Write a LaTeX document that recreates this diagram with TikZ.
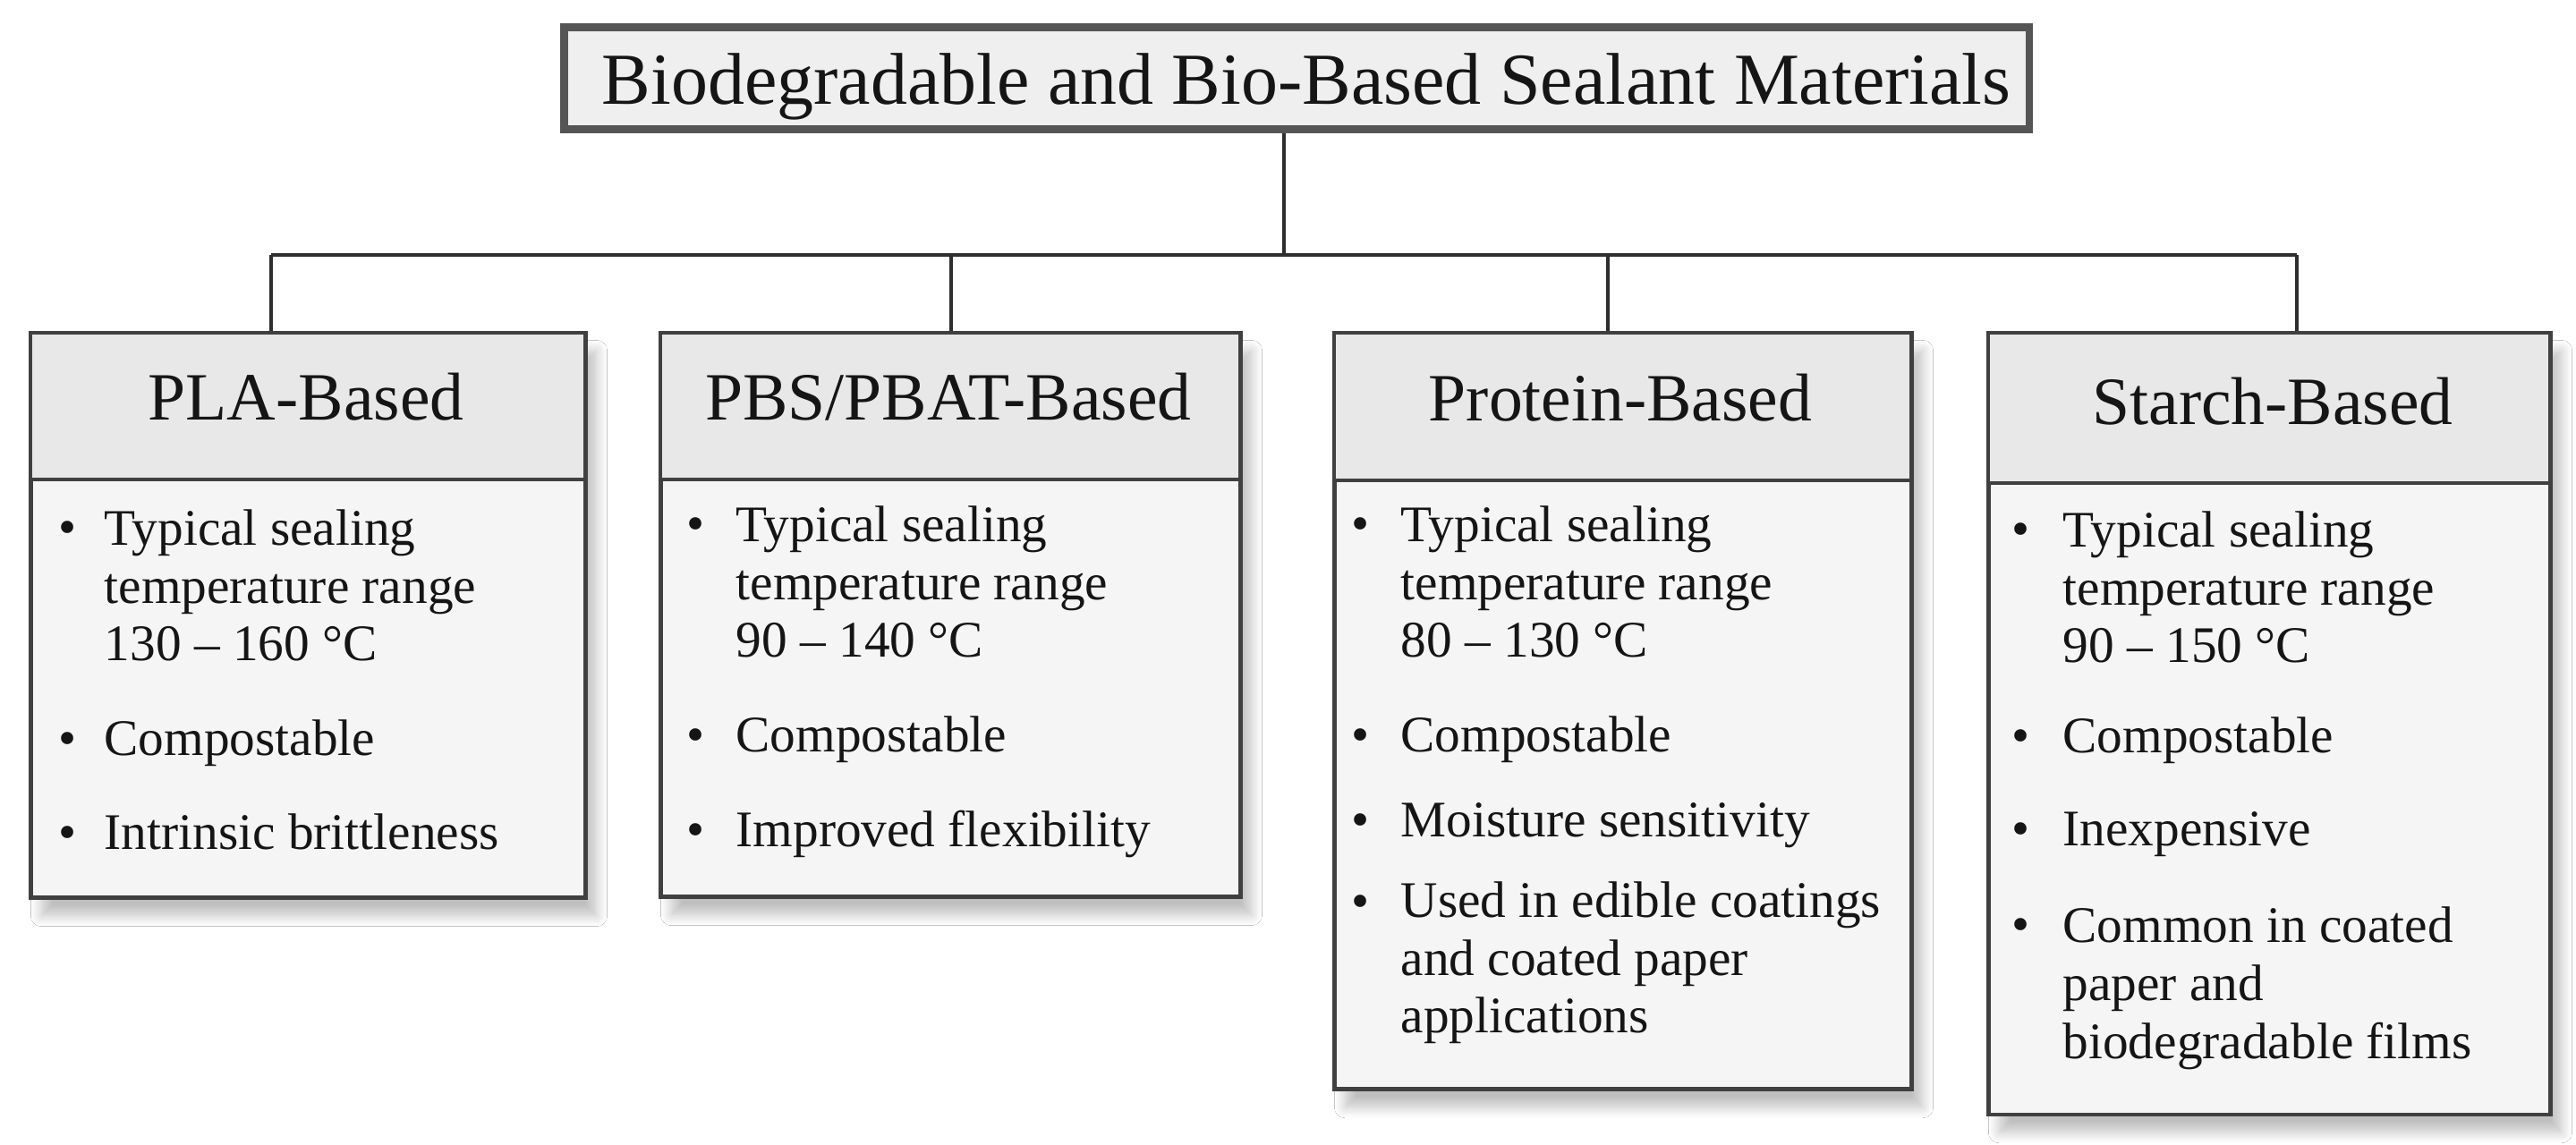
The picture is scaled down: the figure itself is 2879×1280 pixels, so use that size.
\documentclass[tikz,border=0pt]{standalone}
\usepackage{fontspec}
\setmainfont{Liberation Serif}
\usetikzlibrary{shadows.blur}
\definecolor{bordc}{HTML}{404040}
\definecolor{titlec}{HTML}{555555}
\definecolor{hfill}{HTML}{E8E8E8}
\definecolor{bfill}{HTML}{F5F5F5}
\definecolor{tfill}{HTML}{EFEFEF}
\definecolor{linec}{HTML}{2E2E2E}
\definecolor{txtc}{HTML}{151515}
\begin{document}
\begin{tikzpicture}[x=0.01cm,y=-0.01cm,
  cardbox/.style={draw=bordc, line width=1.3pt, fill=bfill, inner sep=0pt, anchor=north west,
    blur shadow={shadow xshift=0.12cm, shadow yshift=-0.2cm, shadow blur radius=0.12cm, shadow blur steps=12, shadow opacity=25}},
  headbox/.style={draw=bordc, line width=1.1pt, fill=hfill, inner sep=0pt, anchor=north west},
  headtxt/.style={font=\fontsize{21.5}{24}\selectfont, text=txtc, anchor=base, inner sep=0pt},
  itemtxt/.style={font=\fontsize{16.3}{18.4}\selectfont, text=txtc, anchor=base west, align=left, inner sep=0pt},
  bullettxt/.style={font=\fontsize{16.3}{18.4}\selectfont, text=txtc, anchor=base, inner sep=0pt},
  conn/.style={draw=linec, line width=1pt},
]
\useasboundingbox[fill=white] (0,0) rectangle (2879,1280);

% title
\node[draw=titlec, line width=2.55pt, fill=tfill, minimum width=16.37cm, minimum height=1.14cm, inner sep=0pt] (title) at (1449,87.5) {};
\node[font=\fontsize{23.3}{26}\selectfont, text=txtc, anchor=base, inner sep=0pt] (titletxt) at (1460,117) {Biodegradable and Bio-Based Sealant Materials};

% PLA card
\node[cardbox, minimum width=6.20cm, minimum height=6.31cm] (pla) at (32,370) {};
\node[headbox, minimum width=6.20cm, minimum height=1.64cm] (plah) at (32,370) {};
\node[headtxt] (plat) at (342,470) {PLA-Based};
\node[bullettxt] (plab1) at (76,609) {•};
\node[itemtxt] (plai1) at (116,739) {Typical sealing\\temperature range\\130 – 160 °C};
\node[bullettxt] (plab2) at (76,845) {•};
\node[itemtxt] (plai2) at (116,845) {Compostable};
\node[bullettxt] (plab3) at (76,950) {•};
\node[itemtxt] (plai3) at (116,950) {Intrinsic brittleness};

% PBS card
\node[cardbox, minimum width=6.48cm, minimum height=6.30cm] (pbs) at (736,370) {};
\node[headbox, minimum width=6.48cm, minimum height=1.64cm] (pbsh) at (736,370) {};
\node[headtxt] (pbst) at (1060,470) {PBS/PBAT-Based};
\node[bullettxt] (pbsb1) at (778,605) {•};
\node[itemtxt] (pbsi1) at (822,735) {Typical sealing\\temperature range\\90 – 140 °C};
\node[bullettxt] (pbsb2) at (778,841) {•};
\node[itemtxt] (pbsi2) at (822,841) {Compostable};
\node[bullettxt] (pbsb3) at (778,947) {•};
\node[itemtxt] (pbsi3) at (822,947) {Improved flexibility};

% Protein card
\node[cardbox, minimum width=6.45cm, minimum height=8.45cm] (pro) at (1489,370) {};
\node[headbox, minimum width=6.45cm, minimum height=1.65cm] (proh) at (1489,370) {};
\node[headtxt] (prot) at (1811,471) {Protein-Based};
\node[bullettxt] (prob1) at (1521,605) {•};
\node[itemtxt] (proi1) at (1565,735) {Typical sealing\\temperature range\\80 – 130 °C};
\node[bullettxt] (prob2) at (1521,841) {•};
\node[itemtxt] (proi2) at (1565,841) {Compostable};
\node[bullettxt] (prob3) at (1521,936) {•};
\node[itemtxt] (proi3) at (1565,936) {Moisture sensitivity};
\node[bullettxt] (prob4) at (1521,1027) {•};
\node[itemtxt] (proi4) at (1565,1155) {Used in edible coatings\\and coated paper\\applications};

% Starch card
\node[cardbox, minimum width=6.28cm, minimum height=8.73cm] (sta) at (2220,370) {};
\node[headbox, minimum width=6.28cm, minimum height=1.68cm] (stah) at (2220,370) {};
\node[headtxt] (stat) at (2540,475) {Starch-Based};
\node[bullettxt] (stab1) at (2258,611) {•};
\node[itemtxt] (stai1) at (2305,741) {Typical sealing\\temperature range\\90 – 150 °C};
\node[bullettxt] (stab2) at (2258,842) {•};
\node[itemtxt] (stai2) at (2305,842) {Compostable};
\node[bullettxt] (stab3) at (2258,946) {•};
\node[itemtxt] (stai3) at (2305,946) {Inexpensive};
\node[bullettxt] (stab4) at (2258,1053) {•};
\node[itemtxt] (stai4) at (2305,1183) {Common in coated\\paper and\\biodegradable films};

% connectors
\coordinate (hub) at (1435,285);
\coordinate (j1) at (303,285);
\coordinate (j2) at (1063,285);
\coordinate (j3) at (1797,285);
\coordinate (j4) at (2567,285);
\draw[conn] (title.south -| hub) -- (hub);
\draw[conn] (j1) -- (j4);
\draw[conn] (j1) -- (j1 |- pla.north);
\draw[conn] (j2) -- (j2 |- pbs.north);
\draw[conn] (j3) -- (j3 |- pro.north);
\draw[conn] (j4) -- (j4 |- sta.north);
\end{tikzpicture}
\end{document}
